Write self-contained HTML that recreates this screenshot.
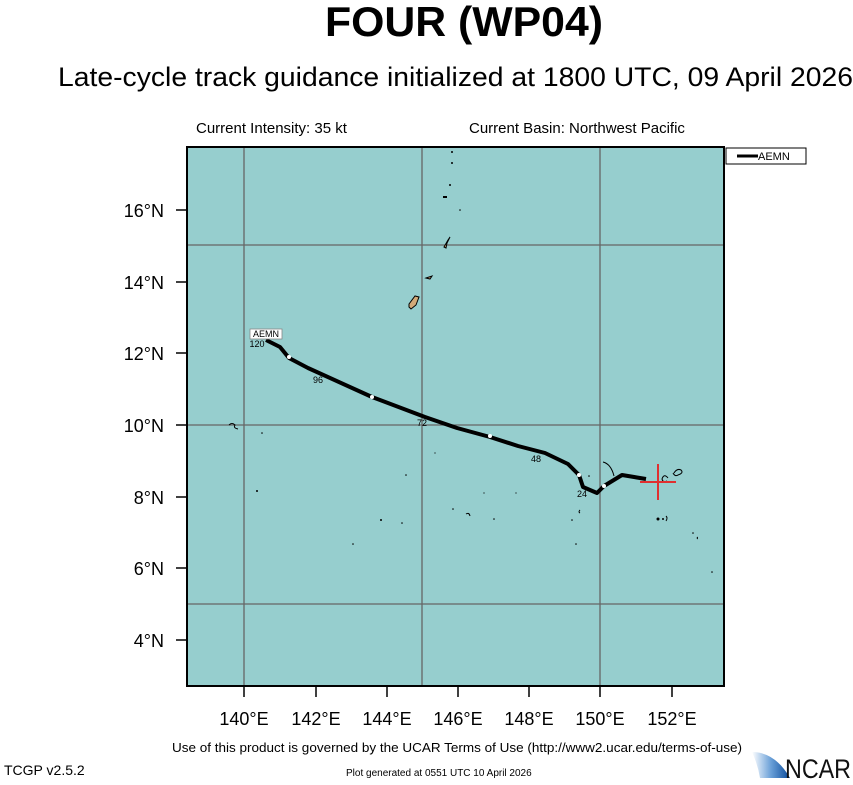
<!DOCTYPE html>
<html><head><meta charset="utf-8"><style>
body{margin:0;background:#fff;width:853px;height:780px;overflow:hidden;font-family:"Liberation Sans",Arial,sans-serif}
</style></head><body>
<svg width="853" height="780" xmlns="http://www.w3.org/2000/svg" font-family="Liberation Sans, Arial, sans-serif">
<text x="464" y="36" font-size="42" font-weight="bold" text-anchor="middle" textLength="278" lengthAdjust="spacingAndGlyphs">FOUR (WP04)</text>
<text x="58" y="86" font-size="27" textLength="795" lengthAdjust="spacingAndGlyphs">Late-cycle track guidance initialized at 1800 UTC, 09 April 2026</text>
<text x="196" y="133" font-size="15">Current Intensity: 35 kt</text>
<text x="469" y="133" font-size="15">Current Basin: Northwest Pacific</text>
<rect x="187" y="147" width="537" height="539" fill="#96cece"/>
<g stroke="#666" stroke-width="1.3">
<line x1="244" y1="147" x2="244" y2="686"/><line x1="422" y1="147" x2="422" y2="686"/><line x1="600" y1="147" x2="600" y2="686"/>
<line x1="187" y1="245" x2="724" y2="245"/><line x1="187" y1="425" x2="724" y2="425"/><line x1="187" y1="604" x2="724" y2="604"/>
</g>
<rect x="187" y="147" width="537" height="539" fill="none" stroke="#000" stroke-width="2"/>
<g stroke="#000" stroke-width="1.5">
<line x1="244" y1="686" x2="244" y2="697"/><line x1="316" y1="686" x2="316" y2="697"/><line x1="387" y1="686" x2="387" y2="697"/><line x1="458" y1="686" x2="458" y2="697"/><line x1="529" y1="686" x2="529" y2="697"/><line x1="600" y1="686" x2="600" y2="697"/><line x1="672" y1="686" x2="672" y2="697"/>
<line x1="176" y1="210" x2="187" y2="210"/><line x1="176" y1="282" x2="187" y2="282"/><line x1="176" y1="353" x2="187" y2="353"/><line x1="176" y1="425" x2="187" y2="425"/><line x1="176" y1="497" x2="187" y2="497"/><line x1="176" y1="568" x2="187" y2="568"/><line x1="176" y1="640" x2="187" y2="640"/>
</g>
<g font-size="18" text-anchor="middle">
<text x="244" y="725">140°E</text><text x="316" y="725">142°E</text><text x="387" y="725">144°E</text><text x="458" y="725">146°E</text><text x="529" y="725">148°E</text><text x="600" y="725">150°E</text><text x="672" y="725">152°E</text>
</g>
<g font-size="18" text-anchor="end">
<text x="164" y="217">16°N</text><text x="164" y="289">14°N</text><text x="164" y="360">12°N</text><text x="164" y="432">10°N</text><text x="164" y="504">8°N</text><text x="164" y="575">6°N</text><text x="164" y="647">4°N</text>
</g>
<path d="M409,304 L415,296 L419,297 L416,305 L411,309 L409,307Z" fill="#d2aa78" stroke="#000" stroke-width="1"/>
<path d="M426,278 L432,276 L430,279Z" fill="#d2aa78" stroke="#000" stroke-width="1"/>
<path d="M444,247 L448,240 L450,237 L447,243 L446,248Z" fill="#d2aa78" stroke="#000" stroke-width="1"/>
<g fill="#000">
<circle cx="452" cy="152" r="1"/><circle cx="452" cy="163" r="1"/><circle cx="450" cy="185" r="1"/><rect x="443" y="196" width="4" height="2"/><circle cx="460" cy="210" r="0.8"/>
<circle cx="262" cy="433" r="0.8"/><circle cx="257" cy="491" r="1"/><circle cx="406" cy="475" r="0.8"/><circle cx="381" cy="520" r="1"/><circle cx="402" cy="523" r="0.8"/><circle cx="353" cy="544" r="0.8"/><circle cx="435" cy="453" r="0.6"/><circle cx="484" cy="493" r="0.6"/><circle cx="516" cy="493" r="0.6"/><circle cx="494" cy="519" r="0.8"/><circle cx="572" cy="520" r="0.8"/><circle cx="576" cy="544" r="0.8"/><circle cx="589" cy="476" r="0.8"/><circle cx="658" cy="519" r="1.5"/><circle cx="663" cy="519" r="1"/><circle cx="693" cy="533" r="0.8"/><circle cx="712" cy="572" r="0.8"/><circle cx="453" cy="509" r="0.8"/>
</g>
<g fill="none" stroke="#000" stroke-width="1">
<path d="M229,425 q3,-3 6,0 q-2,3 3,4"/><path d="M603,462 q8,2 11,14"/><path d="M668,478 q-4,-5 -6,1 q1,4 5,2"/><path d="M674,473 q3,-5 7,-3 q3,3 -3,5 q-3,2 -5,-2"/><path d="M466,514 q3,-2 4,2"/><path d="M580,510 q-2,2 0,3"/><path d="M666,516 q2,2 0,5"/><path d="M697,537 q1,1 0,2"/>
</g>
<polyline points="266,340 280,347 289,358 308,368 372,397 425,417 457,428 490,437 518,446 545,453 568,464 579,475 583,487 597,493 604,486 622,475 646,479" fill="none" stroke="#000" stroke-width="4" stroke-linejoin="round"/>
<g fill="#fff"><circle cx="289" cy="357" r="2"/><circle cx="372" cy="397" r="2"/><circle cx="490" cy="436" r="2"/><circle cx="579" cy="475" r="2"/><circle cx="604" cy="486" r="2"/></g>
<g font-size="9" text-anchor="middle">
<text x="318" y="383">96</text><text x="422" y="426">72</text><text x="536" y="462">48</text><text x="582" y="497">24</text><text x="257" y="347">120</text>
</g>
<rect x="250" y="329" width="32" height="10" fill="#fff" stroke="#888" stroke-width="0.8"/>
<text x="266" y="337" font-size="9" text-anchor="middle">AEMN</text>
<g stroke="#e03030" stroke-width="2"><line x1="640" y1="482" x2="676" y2="482"/><line x1="658" y1="464" x2="658" y2="500"/></g>
<rect x="726" y="148" width="80" height="16" fill="#fff" stroke="#000" stroke-width="1"/>
<line x1="737" y1="156" x2="758" y2="156" stroke="#000" stroke-width="3"/>
<text x="758" y="160" font-size="11">AEMN</text>
<text x="172" y="752" font-size="13" textLength="570" lengthAdjust="spacingAndGlyphs">Use of this product is governed by the UCAR Terms of Use (http://www2.ucar.edu/terms-of-use)</text>
<text x="4" y="775" font-size="14">TCGP v2.5.2</text>
<text x="346" y="776" font-size="10">Plot generated at 0551 UTC   10 April 2026</text>
<defs><linearGradient id="g" x1="0" x2="1"><stop offset="0" stop-color="#fff"/><stop offset="0.5" stop-color="#6aa0d8"/><stop offset="1" stop-color="#0a4a9a"/></linearGradient></defs>
<path d="M752,752 Q775,752 790,778 L760,778 Q758,765 752,752Z" fill="url(#g)"/>
<text x="785" y="778" font-size="27" fill="#111" textLength="66" lengthAdjust="spacingAndGlyphs">NCAR</text>
</svg>
</body></html>
